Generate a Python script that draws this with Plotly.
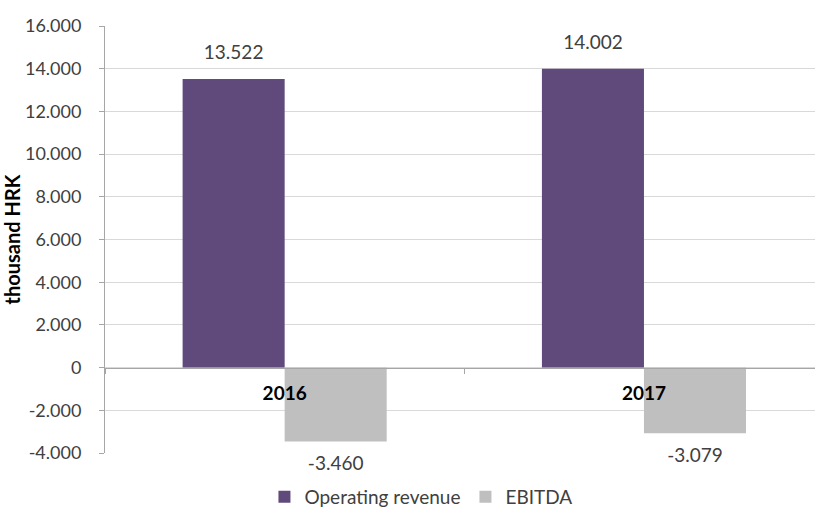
import plotly.graph_objects as go

years = ["2016", "2017"]
operating_revenue = [13522, 14002]
ebitda = [-3460, -3079]
y_ticks = [-4000, -2000, 0, 2000, 4000, 6000, 8000, 10000, 12000, 14000, 16000]


def fmt(v):
    s = f"{abs(v):,}".replace(",", ".")
    return ("-" if v < 0 else "") + s


FONT = "Lato, Carlito, Calibri, sans-serif"
TXT = "#404040"
FS = 19
GAP = 0.432

fig = go.Figure()
fig.add_trace(go.Bar(
    x=years, y=operating_revenue, name="Operating revenue",
    marker=dict(color="#604A7B", line=dict(width=0)),
))
fig.add_trace(go.Bar(
    x=years, y=ebitda, name="EBITDA",
    marker=dict(color="#BFBFBF", line=dict(width=0)),
))

# data labels: invisible grouped scatter points carry the text, offset by marker radius
for series, pos in ((operating_revenue, "top center"), (ebitda, "bottom center")):
    fig.add_trace(go.Scatter(
        x=years, y=series, mode="markers+text", text=[fmt(v) for v in series],
        textposition=pos, textfont=dict(size=FS, color=TXT, family=FONT),
        marker=dict(size=22, opacity=0), showlegend=False, hoverinfo="skip",
        cliponaxis=False,
    ))

fig.update_layout(
    width=815, height=509,
    margin=dict(l=105, r=0, t=26, b=56, autoexpand=False),
    paper_bgcolor="white", plot_bgcolor="white",
    font=dict(family=FONT, size=FS, color=TXT),
    barmode="group", bargap=GAP, bargroupgap=0,
    scattermode="group", scattergap=GAP,
    showlegend=True,
    legend=dict(orientation="h", x=0.445, xanchor="center", yref="container",
                y=12 / 509, yanchor="middle",
                font=dict(size=FS, color=TXT), itemwidth=30, traceorder="normal"),
)
fig.update_xaxes(
    type="category", range=[-0.5, 1.476],
    anchor="free", position=0.2,
    showline=True, linecolor="#A6A6A6", linewidth=1,
    ticks="outside", tickson="boundaries", ticklen=5, tickcolor="#A6A6A6",
    tickfont=dict(size=FS, color="black", family=FONT, weight="bold"),
    ticklabelstandoff=9,
    showgrid=False, zeroline=False,
)
fig.update_yaxes(
    range=[-4000, 16000], tickvals=y_ticks, ticktext=[fmt(v) for v in y_ticks],
    showline=True, linecolor="#A6A6A6", linewidth=1,
    ticks="outside", ticklen=5, tickcolor="#A6A6A6",
    ticklabelstandoff=14,
    tickfont=dict(size=18, color=TXT),
    showgrid=True, gridcolor="#D9D9D9", gridwidth=1,
    zeroline=False,
    title=dict(text="thousand HRK", font=dict(size=20, color="black", weight="bold"), standoff=6),
)
fig.write_html("out.html")
